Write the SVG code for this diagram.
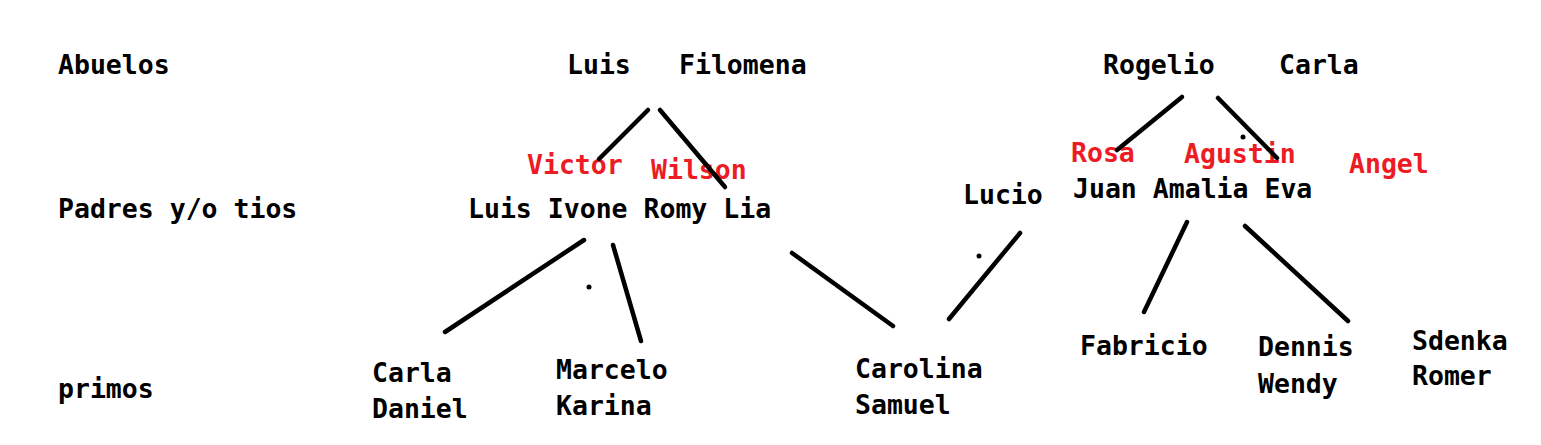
<svg xmlns="http://www.w3.org/2000/svg" width="1541" height="445" viewBox="0 0 1541 445">
<style>
text{font-family:"DejaVu Sans Mono","Liberation Mono",monospace;font-weight:bold;font-size:26.5px;fill:#000}
text.r{fill:#ED1C24}
.c line{stroke:#000;stroke-width:4.5;stroke-linecap:round}
.c circle{fill:#000}
</style>
<rect width="1541" height="445" fill="#fff"/>
<g id="labels">
<text x="58" y="74">Abuelos</text>
<text x="58" y="218">Padres y/o tios</text>
<text x="58" y="398">primos</text>
</g>
<g id="abuelos1"><text x="567" y="74">Luis</text><text x="679" y="74">Filomena</text></g>
<g id="abuelos2"><text x="1103" y="74">Rogelio</text><text x="1279" y="74">Carla</text></g>
<g id="victor"><text class="r" x="527" y="174">Victor</text></g>
<g id="wilson"><text class="r" x="651" y="179">Wilson</text></g>
<g id="padres1"><text x="468" y="218">Luis Ivone Romy Lia</text></g>
<g id="lucio"><text x="963" y="204">Lucio</text></g>
<g id="rosa"><text class="r" x="1071" y="162">Rosa</text></g>
<g id="agustin"><text class="r" x="1184" y="163">Agustin</text></g>
<g id="angel"><text class="r" x="1349" y="173">Angel</text></g>
<g id="padres2"><text x="1073" y="198">Juan Amalia Eva</text></g>
<g id="primos1"><text x="372" y="382">Carla</text><text x="372" y="418">Daniel</text></g>
<g id="primos2"><text x="556" y="379">Marcelo</text><text x="556" y="415">Karina</text></g>
<g id="primos3"><text x="855" y="378">Carolina</text><text x="855" y="414">Samuel</text></g>
<g id="primos4"><text x="1080" y="355">Fabricio</text></g>
<g id="primos5"><text x="1258" y="356">Dennis</text><text x="1258" y="393">Wendy</text></g>
<g id="primos6"><text x="1412" y="350">Sdenka</text><text x="1412" y="385">Romer</text></g>
<g id="connectors" class="c">
<line x1="648" y1="110" x2="599" y2="159"/>
<line x1="660" y1="110" x2="725" y2="187"/>
<line x1="1182" y1="97" x2="1117" y2="150"/>
<line x1="1218" y1="98" x2="1277" y2="158"/>
<circle cx="1243" cy="137" r="2.5"/>
<line x1="584" y1="240" x2="445" y2="332"/>
<circle cx="589" cy="287" r="2.5"/>
<line x1="613" y1="245" x2="641" y2="341"/>
<line x1="792" y1="253" x2="893" y2="326"/>
<line x1="1020" y1="233" x2="949" y2="319"/>
<circle cx="979" cy="256" r="2.5"/>
<line x1="1187" y1="222" x2="1144" y2="312"/>
<line x1="1245" y1="226" x2="1348" y2="321"/>
</g>
</svg>
